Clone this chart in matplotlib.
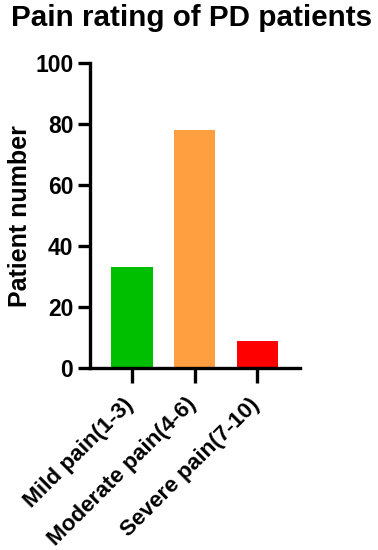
import matplotlib.pyplot as plt
import matplotlib.transforms as mtransforms
import numpy as np

plt.rcParams['font.family'] = ['Liberation Sans', 'DejaVu Sans']

categories = ['Mild pain(1-3)', 'Moderate pain(4-6)', 'Severe pain(7-10)']
patients = [33, 78, 9]
bar_colors = ['#00BE00', '#FF9F40', '#FF0000']
y_ticks = [0, 20, 40, 60, 80, 100]

fig = plt.figure(figsize=(3.78, 5.5), dpi=100)
ax = fig.add_axes([0.238, 0.331, 0.556, 0.554])

x = np.arange(len(categories))
ax.bar(x, patients, width=0.66, color=bar_colors, linewidth=0, zorder=2)

ax.set_xlim(-0.67, 2.68)
ax.set_ylim(0, 100)
ax.set_yticks(y_ticks)
ax.set_xticks(x)
ax.set_xticklabels(categories, rotation=45, ha='right', rotation_mode='anchor',
                   fontsize=16.2, fontweight='bold')
for lab in ax.get_yticklabels():
    lab.set_fontweight('bold')
ax.tick_params(axis='y', labelsize=16.5, width=2.4, length=9, pad=3)
ax.tick_params(axis='x', width=2.4, length=11, pad=3.5)

# nudge rotated labels (after tick_params, which resets label transforms)
shift = mtransforms.ScaledTranslation(-9 / 100, -6 / 100, fig.dpi_scale_trans)
for lab in ax.get_xticklabels():
    lab.set_transform(lab.get_transform() + shift)

ax.spines['top'].set_visible(False)
ax.spines['right'].set_visible(False)
ax.spines['left'].set_linewidth(2.4)
ax.spines['bottom'].set_linewidth(2.4)

ax.set_ylabel('Patient number', fontsize=18, fontweight='bold', labelpad=2)
fig.suptitle('Pain rating of PD patients', fontsize=21.3, fontweight='bold', x=0.508, y=0.992)

fig.savefig('out.png', dpi=100)
